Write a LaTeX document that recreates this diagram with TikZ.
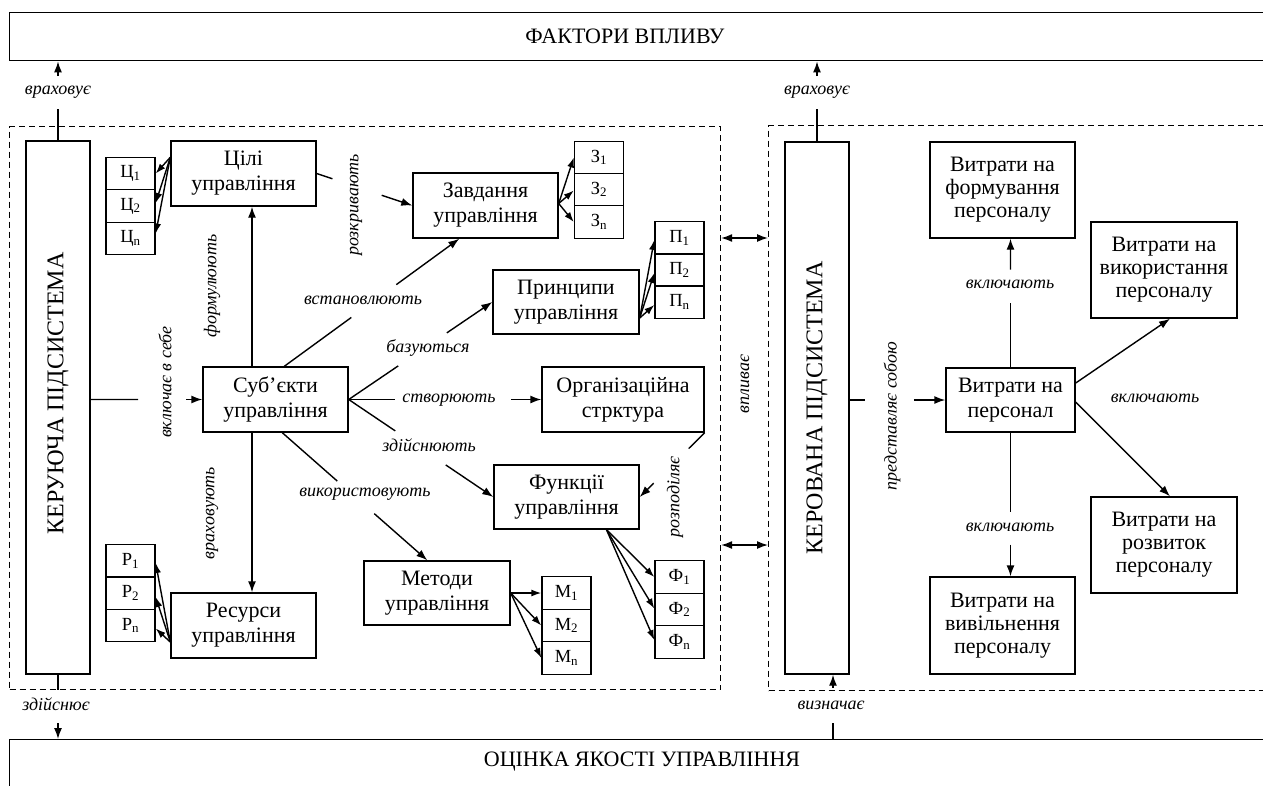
\documentclass[tikz,border=0pt]{standalone}
\usepackage{fontspec}
\setmainfont{Liberation Serif}
\usetikzlibrary{arrows.meta,calc}
\newcommand{\gapline}[4]{%
  \draw (#1) -- ($(#1)!#3!(#2)$);
  \draw[arr] ($(#1)!#4!(#2)$) -- (#2);}
\begin{document}
\begin{tikzpicture}[x=1pt,y=-1pt,line width=1.4pt,
  box/.style={draw, align=center, inner sep=0pt, font=\fontsize{22}{25}\selectfont},
  boxthree/.style={box, font=\fontsize{22}{23}\selectfont},
  sbox/.style={draw, inner sep=0pt, minimum width=49pt, minimum height=32.5pt, font=\fontsize{18.5}{18.5}\selectfont},
  lbl/.style={inner sep=0pt, font=\fontsize{18}{18}\selectfont\itshape},
  vlbl/.style={lbl, rotate=90},
  arr/.style={-{Latex[length=11pt,width=8pt]}},
  sarr/.style={-{Latex[length=10pt,width=7pt]}},
  darr/.style={{Latex[length=11pt,width=8pt]}-{Latex[length=11pt,width=8pt]}},
  region/.style={draw, dash pattern=on 6pt off 4pt, line width=1.1pt, inner sep=0pt},
  tall/.style={draw, inner sep=0pt, minimum width=64pt, font=\fontsize{24}{24}\selectfont},
  frame/.style={draw, inner sep=0pt, minimum width=1290pt},
  title/.style={inner sep=0pt, font=\fontsize{22}{22}\selectfont}
]
\useasboundingbox (0,0) rectangle (1263,785);

% outer frames
\node[frame, anchor=north west, minimum height=48pt] (factbox) at (9,12) {};
\node[title] (facttext) at (625,36) {ФАКТОРИ ВПЛИВУ};
\node[frame, anchor=north west, minimum height=60pt] (ocbox) at (9,739) {};
\node[title] (octext) at (642,762) {ОЦІНКА ЯКОСТІ УПРАВЛІННЯ};

% dashed regions
\node[region, anchor=north west, minimum width=711pt, minimum height=563pt] (leftreg) at (9,126) {};
\node[region, anchor=north west, minimum width=520pt, minimum height=565pt] (rightreg) at (768,125) {};

% tall boxes
\node[tall, minimum height=533pt] (kerbox) at (58,407.5) {\rotatebox{90}{\hspace{28pt}КЕРУЮЧА ПІДСИСТЕМА}};
\node[tall, minimum height=532pt] (kerov) at (817,408) {\rotatebox{90}{КЕРОВАНА ПІДСИСТЕМА}};

% main boxes left
\node[box, minimum width=145pt, minimum height=65pt] (cili) at (243.5,173.5) {Цілі\\управління};
\node[box, minimum width=145pt, minimum height=65pt] (zav) at (485.5,205.5) {Завдання\\управління};
\node[box, minimum width=146pt, minimum height=64pt] (pryn) at (566,302) {Принципи\\управління};
\node[box, minimum width=145pt, minimum height=65pt] (subj) at (275.5,399.5) {Суб'єкти\\управління};
\node[box, minimum width=162pt, minimum height=65pt] (org) at (623,399.5) {Організаційна\\стрктура};
\node[box, minimum width=145pt, minimum height=64pt] (funk) at (566.5,497) {Функції\\управління};
\node[box, minimum width=146pt, minimum height=64pt] (met) at (437,593) {Методи\\управління};
\node[box, minimum width=145pt, minimum height=65pt] (res) at (243.5,625.5) {Ресурси\\управління};

% small boxes
\node[sbox] (c1) at (130.5,173.5) {Ц\textsubscript{1}};
\node[sbox] (c2) at (130.5,206) {Ц\textsubscript{2}};
\node[sbox] (c3) at (130.5,238.5) {Ц\textsubscript{n}};
\node[sbox] (z1) at (599,157.5) {З\textsubscript{1}};
\node[sbox] (z2) at (599,189.5) {З\textsubscript{2}};
\node[sbox] (z3) at (599,222) {З\textsubscript{n}};
\node[sbox] (p1) at (679.5,238) {П\textsubscript{1}};
\node[sbox] (p2) at (679.5,270) {П\textsubscript{2}};
\node[sbox] (p3) at (679.5,302) {П\textsubscript{n}};
\node[sbox] (r1) at (130.5,561) {Р\textsubscript{1}};
\node[sbox] (r2) at (130.5,593) {Р\textsubscript{2}};
\node[sbox] (r3) at (130.5,625.5) {Р\textsubscript{n}};
\node[sbox] (m1) at (566.5,593) {М\textsubscript{1}};
\node[sbox] (m2) at (566.5,625.5) {М\textsubscript{2}};
\node[sbox] (m3) at (566.5,658) {М\textsubscript{n}};
\node[sbox] (f1) at (679.5,577) {Ф\textsubscript{1}};
\node[sbox] (f2) at (679.5,609.5) {Ф\textsubscript{2}};
\node[sbox] (f3) at (679.5,642) {Ф\textsubscript{n}};

% right boxes
\node[box, minimum width=129pt, minimum height=64pt] (pers) at (1010.5,400) {Витрати на\\персонал};
\node[boxthree, minimum width=145pt, minimum height=96pt] (form) at (1002.5,190) {Витрати на\\формування\\персоналу};
\node[boxthree, minimum width=146pt, minimum height=96pt] (vyk) at (1164,270) {Витрати на\\використання\\персоналу};
\node[boxthree, minimum width=146pt, minimum height=96pt] (rozv) at (1164,545) {Витрати на\\розвиток\\персоналу};
\node[boxthree, minimum width=145pt, minimum height=97pt] (viv) at (1002.5,625.5) {Витрати на\\вивільнення\\персоналу};

% labels
\node[lbl] (l1) at (58,92) {враховує};
\node[lbl] (l2) at (817,92) {враховує};
\node[lbl] (l3) at (56,704) {здійснює};
\node[lbl] (l4) at (831,705) {визначає};
\node[vlbl] (l5) at (165,382) {включає в себе};
\node[vlbl] (l6) at (212,286) {формулюють};
\node[vlbl] (l7) at (212,513) {враховують};
\node[vlbl] (l8) at (356,205) {розкривають};
\node[lbl] (l9) at (363,300) {встановлюють};
\node[lbl] (l10) at (428,348) {базуються};
\node[lbl] (l11) at (449,400) {створюють};
\node[lbl] (l12) at (429,445) {здійснюють};
\node[lbl] (l13) at (365,494) {використовують};
\node[vlbl] (l14) at (675,497) {розподіляє};
\node[vlbl] (l15) at (745,384) {впливає};
\node[vlbl] (l16) at (892,416) {представляє собою};
\node[lbl] (l17) at (1010,284) {включають};
\node[lbl] (l18) at (1010,527) {включають};
\node[lbl] (l19) at (1155,398) {включають};

% connectors: frames
\coordinate (w1) at (kerbox.north |- factbox.south);
\gapline{kerbox.north}{w1}{0.395}{0.815}
\coordinate (w2) at (kerov.north |- factbox.south);
\gapline{kerov.north}{w2}{0.402}{0.817}
\coordinate (w3) at (kerbox.south |- ocbox.north);
\gapline{kerbox.south}{w3}{0.23}{0.754}
\coordinate (vtop) at ($(kerov.south)+(16,0)$);
\coordinate (vbot) at (vtop |- ocbox.north);
\gapline{vbot}{vtop}{0.246}{0.8}

% double arrows between regions
\coordinate (y1) at (0,238);
\coordinate (y2) at (0,545);
\draw[darr] (leftreg.east |- y1) -- (rightreg.west |- y1);
\draw[darr] (leftreg.east |- y2) -- (rightreg.west |- y2);

% left subsystem connectors
\coordinate (k1) at (kerbox.east |- subj.west);
\gapline{k1}{subj.west}{0.425}{0.858}
\coordinate (vx) at (252,0);
\draw[arr] (subj.north -| vx) -- (cili.south -| vx);
\draw[arr] (subj.south -| vx) -- (res.north -| vx);
\coordinate (s1) at ($(subj.north west)+(82,0)$);
\coordinate (t1) at ($(zav.south west)+(47,0)$);
\gapline{s1}{t1}{0.383}{0.64}
\gapline{subj.east}{pryn.west}{0.345}{0.683}
\gapline{subj.east}{org.west}{0.242}{0.845}
\gapline{subj.east}{funk.west}{0.322}{0.671}
\coordinate (s2) at ($(subj.south west)+(80,0)$);
\coordinate (t2) at ($(met.north west)+(64,0)$);
\gapline{s2}{t2}{0.379}{0.634}
\gapline{cili.east}{zav.west}{0.165}{0.68}
\gapline{org.south east}{funk.east}{0.246}{0.785}

% fans
\coordinate (cs) at ($(cili.north west)+(0,17)$);
\draw[sarr] (cs) -- (c1.east);
\draw[sarr] (cs) -- ($(c2.east)+(0,-3)$);
\draw[sarr] (cs) -- ($(c3.east)+(0,-5)$);
\coordinate (zs) at ($(zav.east)+(0,-2)$);
\draw[sarr] (zs) -- (z1.west);
\draw[sarr] (zs) -- ($(z2.west)+(0,1)$);
\draw[sarr] (zs) -- (z3.west);
\coordinate (ps) at ($(pryn.east)+(0,16)$);
\draw[sarr] (ps) -- ($(p1.west)+(0,2)$);
\draw[sarr] (ps) -- ($(p2.west)+(0,3)$);
\draw[sarr] (ps) -- ($(p3.west)+(0,3)$);
\coordinate (rs) at ($(res.west)+(0,16.5)$);
\draw[sarr] (rs) -- ($(r1.east)+(0,2)$);
\draw[sarr] (rs) -- ($(r2.east)+(0,4)$);
\draw[sarr] (rs) -- ($(r3.east)+(0,3)$);
\draw[sarr] (met.east) -- (m1.west);
\draw[sarr] (met.east) -- (m2.west);
\draw[sarr] (met.east) -- (m3.west);
\coordinate (fs) at ($(funk.south)+(40,0)$);
\draw[sarr] (fs) -- (f1.west);
\draw[sarr] (fs) -- ($(f2.west)+(0,-1)$);
\draw[sarr] (fs) -- ($(f3.west)+(0,-2)$);

% right subsystem connectors
\coordinate (k2) at (kerov.east |- pers.west);
\gapline{k2}{pers.west}{0.155}{0.67}
\coordinate (pf) at (pers.north |- form.south);
\gapline{pers.north}{pf}{0.5}{0.76}
\coordinate (pv) at (pers.south |- viv.north);
\gapline{pers.south}{pv}{0.552}{0.78}
\draw[arr] ($(pers.east)+(0,-17)$) -- ($(vyk.south)+(6,0)$);
\draw[arr] ($(pers.east)+(0,2)$) -- ($(rozv.north)+(6,0)$);
\end{tikzpicture}
\end{document}
